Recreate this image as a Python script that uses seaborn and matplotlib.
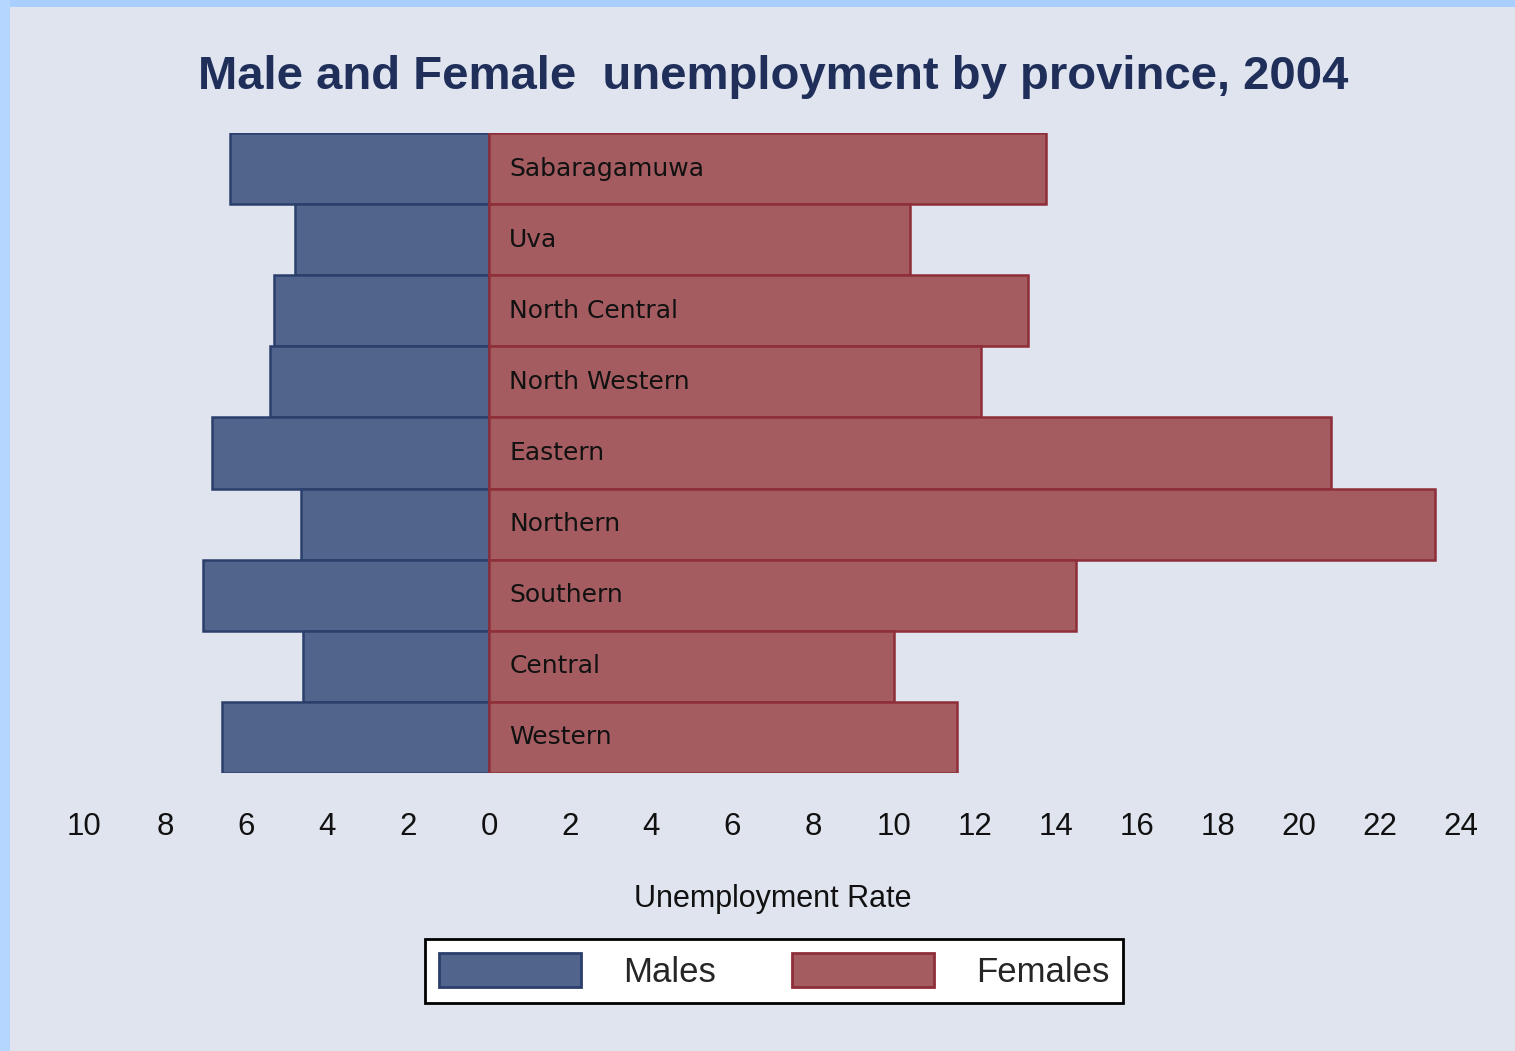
import numpy as np
import pandas as pd
import matplotlib
matplotlib.use("Agg")
import matplotlib.pyplot as plt
from matplotlib.patches import Patch, Rectangle
import seaborn as sns

# data
provinces = ['Sabaragamuwa', 'Uva', 'North Central', 'North Western', 'Eastern',
             'Northern', 'Southern', 'Central', 'Western']
males = [6.4, 4.8, 5.3, 5.4, 6.85, 4.65, 7.05, 4.6, 6.6]
females = [13.75, 10.4, 13.3, 12.15, 20.8, 23.35, 14.5, 10.0, 11.55]
ticks = list(range(-10, 25, 2))

bg = '#E0E4EF'
male_fill, male_edge = '#50648C', '#2A3F6C'
female_fill, female_edge = '#A45C60', '#8E2E38'

sns.set_style('white')
plt.rcParams['font.family'] = ['Liberation Sans', 'DejaVu Sans']

fig = plt.figure(figsize=(15.15, 10.51), dpi=100, facecolor=bg)
ax = fig.add_axes([84 / 1515, 1 - 773 / 1051, (1461 - 84) / 1515, (773 - 133) / 1051])
ax.set_facecolor(bg)

df = pd.DataFrame({'province': provinces,
                   'males': [-m for m in males],
                   'females': females})

sns.barplot(data=df, x='males', y='province', orient='h', width=1.0,
            color=male_fill, saturation=1, edgecolor=male_edge, linewidth=1.8, ax=ax)
sns.barplot(data=df, x='females', y='province', orient='h', width=1.0,
            color=female_fill, saturation=1, edgecolor=female_edge, linewidth=1.8, ax=ax)

# province names written inside the bars
for i, name in enumerate(provinces):
    ax.text(0.5, i, name, ha='left', va='center', fontsize=18, color='#111111',
            family='DejaVu Sans')

ax.set_xlim(-10, 24)
ax.set_ylim(len(provinces) - 0.5, -0.5)
ax.set_xticks(ticks)
ax.set_xticklabels([str(abs(t)) for t in ticks], fontsize=22.5, color='#111111')
ax.tick_params(axis='x', length=0, pad=28)
ax.set_yticks([])
ax.set_ylabel('')
ax.set_xlabel('Unemployment Rate', fontsize=22, color='#111111', labelpad=30)
sns.despine(ax=ax, left=True, bottom=True)

fig.suptitle('Male and Female  unemployment by province, 2004', x=773 / 1515, y=1 - 77 / 1051,
             va='center', fontsize=34, fontweight='bold', color='#1F2F5A')

handles = [Patch(facecolor=male_fill, edgecolor=male_edge, linewidth=2, label='Males'),
           Patch(facecolor=female_fill, edgecolor=female_edge, linewidth=2, label='Females')]
leg = fig.legend(handles=handles, loc='center', bbox_to_anchor=(774 / 1515, 1 - 971 / 1051),
                 ncol=2, fontsize=25, frameon=True, fancybox=False, edgecolor='black',
                 facecolor='white', framealpha=1, handlelength=4.1, handleheight=1.1,
                 handletextpad=1.2, columnspacing=2.2, borderpad=0.4)
leg.get_frame().set_linewidth(2)

# light blue border strips at the top and left edge
fig.patches.append(Rectangle((0, 1 - 7 / 1051), 1, 7 / 1051, transform=fig.transFigure,
                             facecolor='#A8CFFF', edgecolor='none', zorder=-1))
fig.patches.append(Rectangle((0, 0), 10 / 1515, 1, transform=fig.transFigure,
                             facecolor='#B4D6FF', edgecolor='none', zorder=-1))

fig.savefig('out.png', dpi=100, facecolor=bg)
